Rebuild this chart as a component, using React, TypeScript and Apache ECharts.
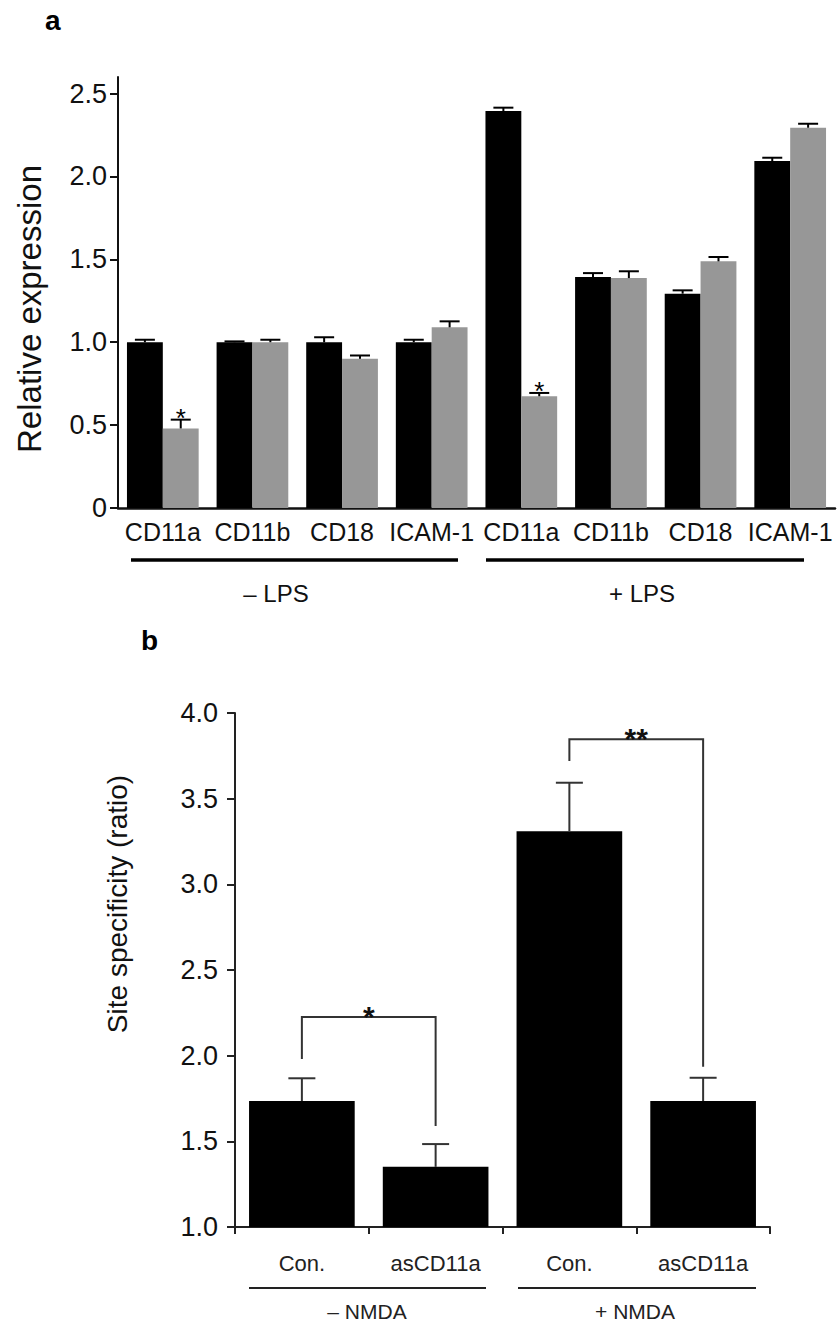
import React, { useEffect, useRef } from "react";
import * as echarts from "echarts";

// ---------- Panel a data ----------
const genesA = ["CD11a", "CD11b", "CD18", "ICAM-1", "CD11a", "CD11b", "CD18", "ICAM-1"];
const controlA = [1.0, 1.0, 1.0, 1.0, 2.395, 1.393, 1.293, 2.093];
const controlErrA = [0.015, 0.005, 0.03, 0.015, 0.02, 0.024, 0.02, 0.02];
const antisenseA = [0.48, 1.0, 0.9, 1.09, 0.674, 1.387, 1.488, 2.294];
const antisenseErrA = [0.053, 0.015, 0.02, 0.036, 0.02, 0.041, 0.026, 0.024];
const sigA = ["*", "", "", "", "*", "", "", ""];
const groupsA = ["\u2013 LPS", "+ LPS"];
const ticksA = [0, 0.5, 1.0, 1.5, 2.0, 2.5];

// ---------- Panel b data ----------
const treatB = ["Con.", "asCD11a", "Con.", "asCD11a"];
const ratioB = [1.735, 1.351, 3.31, 1.735];
const ratioErrB = [0.133, 0.133, 0.283, 0.136];
const groupsB = ["\u2013 NMDA", "+ NMDA"];
const bracketFrom = [0, 2];
const bracketTo = [1, 3];
const bracketTop = [2.225, 3.847];
const bracketLeftEnd = [1.98, 3.72];
const bracketRightEnd = [1.59, 1.936];
const bracketLabel = ["*", "**"];

const FONT = "'Liberation Sans', Arial, Helvetica, sans-serif";

function errorSeries(
  values: number[],
  errs: number[],
  marks: string[] | null,
  side: number,
  axisIdx: number,
  capW: number,
  lw: number,
  color: string
) {
  return {
    type: "custom",
    xAxisIndex: axisIdx,
    yAxisIndex: axisIdx,
    z: 5,
    clip: false,
    silent: true,
    data: values.map((v, i) => [i, v, errs[i]]),
    renderItem: (params: any, api: any) => {
      const idx = api.value(0);
      const v = api.value(1);
      const e = api.value(2);
      const base = api.coord([idx, v]);
      const top = api.coord([idx, v + e]);
      const band = api.size([1, 0])[0];
      const x = base[0] + side * band * 0.2;
      const children: any[] = [
        {
          type: "line",
          shape: { x1: x, y1: base[1], x2: x, y2: top[1] },
          style: { stroke: color, lineWidth: lw },
        },
        {
          type: "line",
          shape: { x1: x - capW / 2, y1: top[1], x2: x + capW / 2, y2: top[1] },
          style: { stroke: color, lineWidth: lw },
        },
      ];
      const m = marks ? marks[params.dataIndex] : "";
      if (m) {
        children.push({
          type: "text",
          style: {
            text: m,
            x: x,
            y: top[1] + 11,
            align: "center",
            verticalAlign: "bottom",
            font: `26px ${FONT}`,
            fill: "#000",
          },
        });
      }
      return { type: "group", children };
    },
  };
}

export default function App() {
  const ref = useRef<HTMLDivElement>(null);

  useEffect(() => {
    if (!ref.current) return;
    const chart = echarts.init(ref.current, null, { renderer: "svg" });

    const option: any = {
      animation: false,
      backgroundColor: "#fff",
      grid: [
        { left: 118, top: 77, width: 717, height: 431 },
        { left: 235, top: 713, width: 535, height: 514 },
      ],
      xAxis: [
        {
          type: "category",
          gridIndex: 0,
          data: genesA,
          axisLine: { lineStyle: { color: "#111", width: 2.5 } },
          axisTick: { show: false },
          axisLabel: { interval: 0, fontSize: 25, color: "#111", margin: 11, fontFamily: FONT },
        },
        {
          type: "category",
          gridIndex: 1,
          data: treatB,
          axisLine: { lineStyle: { color: "#222", width: 2 } },
          axisTick: { show: true, length: 7, lineStyle: { width: 2, color: "#222" } },
          axisLabel: { interval: 0, fontSize: 22, color: "#222", margin: 25, fontFamily: FONT },
        },
      ],
      yAxis: [
        {
          type: "value",
          gridIndex: 0,
          min: 0,
          max: 2.6,
          interval: 0.5,
          splitLine: { show: false },
          axisLine: { show: true, lineStyle: { color: "#111", width: 2 } },
          axisTick: { show: true, length: 8, customValues: ticksA, lineStyle: { width: 2, color: "#111" } },
          axisLabel: {
            customValues: ticksA,
            fontSize: 27,
            color: "#111",
            margin: 11,
            fontFamily: FONT,
            formatter: (v: number) => (v === 0 ? "0" : v.toFixed(1)),
          },
        },
        {
          type: "value",
          gridIndex: 1,
          min: 1,
          max: 4,
          interval: 0.5,
          splitLine: { show: false },
          axisLine: { show: true, lineStyle: { color: "#222", width: 2 } },
          axisTick: { show: true, length: 8, lineStyle: { width: 2, color: "#222" } },
          axisLabel: {
            fontSize: 27,
            color: "#111",
            margin: 17,
            fontFamily: FONT,
            formatter: (v: number) => v.toFixed(1),
          },
        },
      ],
      series: [
        {
          type: "bar",
          xAxisIndex: 0,
          yAxisIndex: 0,
          data: controlA,
          barGap: "0%",
          barCategoryGap: "20%",
          itemStyle: { color: "#000" },
          silent: true,
        },
        {
          type: "bar",
          xAxisIndex: 0,
          yAxisIndex: 0,
          data: antisenseA,
          barGap: "0%",
          barCategoryGap: "20%",
          itemStyle: { color: "#979797" },
          silent: true,
        },
        errorSeries(controlA, controlErrA, null, -1, 0, 20, 2, "#000"),
        errorSeries(antisenseA, antisenseErrA, sigA, 1, 0, 20, 2, "#000"),
        {
          type: "bar",
          xAxisIndex: 1,
          yAxisIndex: 1,
          data: ratioB,
          barCategoryGap: "21%",
          itemStyle: { color: "#000" },
          silent: true,
        },
        errorSeries(ratioB, ratioErrB, null, 0, 1, 27, 2, "#333"),
        {
          type: "custom",
          xAxisIndex: 1,
          yAxisIndex: 1,
          z: 5,
          clip: false,
          silent: true,
          data: bracketFrom.map((f, i) => [f, bracketTo[i], bracketTop[i], bracketLeftEnd[i], bracketRightEnd[i]]),
          renderItem: (params: any, api: any) => {
            const a = api.coord([api.value(0), api.value(3)]);
            const t1 = api.coord([api.value(0), api.value(2)]);
            const t2 = api.coord([api.value(1), api.value(2)]);
            const b = api.coord([api.value(1), api.value(4)]);
            return {
              type: "group",
              children: [
                {
                  type: "polyline",
                  shape: { points: [a, t1, t2, b] },
                  style: { stroke: "#333", lineWidth: 2, fill: null },
                },
                {
                  type: "text",
                  style: {
                    text: bracketLabel[params.dataIndex],
                    x: (t1[0] + t2[0]) / 2,
                    y: t1[1] + 14,
                    align: "center",
                    verticalAlign: "bottom",
                    font: `bold 30px ${FONT}`,
                    fill: "#111",
                  },
                },
              ],
            };
          },
        },
      ],
      graphic: [
        { type: "text", left: 45, top: 6, style: { text: "a", font: `bold 28px ${FONT}`, fill: "#000" } },
        { type: "text", left: 141, top: 626, style: { text: "b", font: `bold 28px ${FONT}`, fill: "#000" } },
        {
          type: "text",
          x: 29,
          y: 309,
          rotation: Math.PI / 2,
          style: { text: "Relative expression", font: `33px ${FONT}`, fill: "#111", align: "center", verticalAlign: "middle" },
        },
        {
          type: "text",
          x: 117,
          y: 904,
          rotation: Math.PI / 2,
          style: { text: "Site specificity (ratio)", font: `28px ${FONT}`, fill: "#111", align: "center", verticalAlign: "middle" },
        },
        { type: "line", shape: { x1: 131, y1: 560, x2: 458, y2: 560 }, style: { stroke: "#000", lineWidth: 3.5 } },
        { type: "line", shape: { x1: 486, y1: 560, x2: 804, y2: 560 }, style: { stroke: "#000", lineWidth: 3.5 } },
        {
          type: "text", x: 276, y: 593,
          style: { text: groupsA[0], font: `24px ${FONT}`, fill: "#111", align: "center", verticalAlign: "middle" },
        },
        {
          type: "text", x: 642, y: 593,
          style: { text: groupsA[1], font: `24px ${FONT}`, fill: "#111", align: "center", verticalAlign: "middle" },
        },
        { type: "line", shape: { x1: 249, y1: 1288, x2: 486, y2: 1288 }, style: { stroke: "#222", lineWidth: 2 } },
        { type: "line", shape: { x1: 518, y1: 1288, x2: 756, y2: 1288 }, style: { stroke: "#222", lineWidth: 2 } },
        {
          type: "text", x: 367, y: 1311,
          style: { text: groupsB[0], font: `21px ${FONT}`, fill: "#222", align: "center", verticalAlign: "middle" },
        },
        {
          type: "text", x: 635, y: 1311,
          style: { text: groupsB[1], font: `21px ${FONT}`, fill: "#222", align: "center", verticalAlign: "middle" },
        },
      ],
    };

    chart.setOption(option);
    return () => chart.dispose();
  }, []);

  return (
    <div
      ref={ref}
      style={{ position: "absolute", left: 0, top: 0, width: 838, height: 1325, background: "#fff" }}
    />
  );
}
